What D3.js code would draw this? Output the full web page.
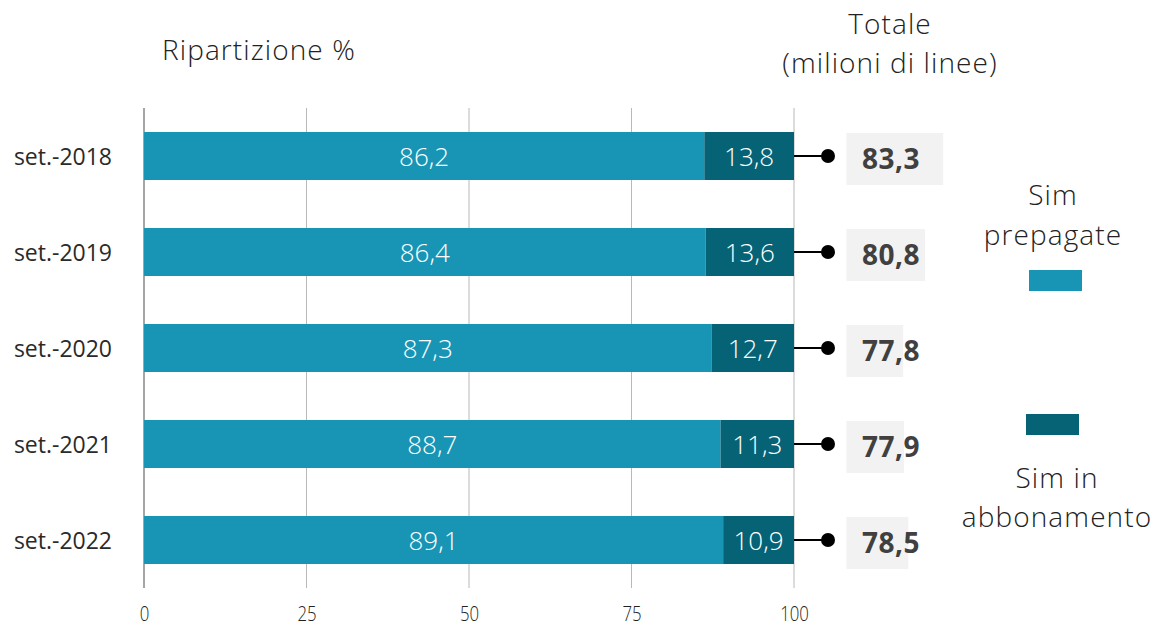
<!DOCTYPE html>
<html><head><meta charset="utf-8">
<script src="https://cdn.jsdelivr.net/npm/d3@7"></script>
<style>body{margin:0;background:#fff;} svg{display:block;}</style>
</head><body>
<svg id="c" width="1157" height="629"></svg>
<script>
const categories = ["set.-2018","set.-2019","set.-2020","set.-2021","set.-2022"];
const prepagate = [86.2, 86.4, 87.3, 88.7, 89.1];
const abbonamento = [13.8, 13.6, 12.7, 11.3, 10.9];
const totale = [83.3, 80.8, 77.8, 77.9, 78.5];
const xTicks = [0, 25, 50, 75, 100];
const seriesNames = ["Sim prepagate", "Sim in abbonamento"];
const colors = ["#1895b5", "#066376"];

const font = "'Segoe UI','Open Sans','Noto Sans',sans-serif";
const svg = d3.select("#c");
const fmt = v => d3.format(".1f")(v).replace(".", ",");

const x = d3.scaleLinear().domain([0, 100]).range([144, 794]);
const y = d3.scaleBand().domain(categories).range([108, 588]).paddingInner(0.5).paddingOuter(0.25);
const tx = d3.scaleLinear().domain([70, 85]).range([846.5, 846.5 + 15 * 7.27]);

// grid
svg.append("g").selectAll("line").data(xTicks.slice(1)).join("line")
  .attr("x1", d => x(d)).attr("x2", d => x(d)).attr("y1", 108).attr("y2", 588)
  .attr("stroke", "#b8b8b8").attr("stroke-width", 1);
svg.append("line").attr("x1", x(0)).attr("x2", x(0)).attr("y1", 108).attr("y2", 588)
  .attr("stroke", "#888").attr("stroke-width", 1.5);

// tick labels
const xa = svg.append("g").attr("transform", "translate(0,588)")
  .call(d3.axisBottom(x).tickValues(xTicks).tickSize(0).tickPadding(18));
xa.select(".domain").remove();
xa.selectAll("text").attr("font-family", font).attr("font-size", 21).attr("font-weight", 300).attr("fill", "#222")
  .attr("text-anchor", "middle").attr("transform", "scale(0.8,1)");

// category labels
const ya = svg.append("g").attr("transform", "translate(112,0)")
  .call(d3.axisLeft(y).tickSize(0).tickPadding(0));
ya.select(".domain").remove();
ya.selectAll("text").attr("font-family", font).attr("font-size", 23).attr("font-weight", 400).attr("fill", "#2a2a2a")
  .attr("dy", "0.38em");

// bars
const rows = svg.append("g").selectAll("g").data(categories).join("g");
rows.append("rect").attr("x", x(0)).attr("y", d => y(d))
  .attr("width", (d, i) => x(prepagate[i]) - x(0)).attr("height", y.bandwidth()).attr("fill", colors[0]);
rows.append("rect").attr("x", (d, i) => x(prepagate[i])).attr("y", d => y(d))
  .attr("width", (d, i) => x(prepagate[i] + abbonamento[i]) - x(prepagate[i])).attr("height", y.bandwidth()).attr("fill", colors[1]);
rows.append("text").attr("x", (d, i) => (x(0) + x(prepagate[i])) / 2).attr("y", d => y(d) + y.bandwidth() / 2)
  .attr("dy", "0.37em").attr("text-anchor", "middle").attr("fill", "#fff")
  .attr("font-family", font).attr("font-size", 26).attr("font-weight", 300).text((d, i) => fmt(prepagate[i]));
rows.append("text").attr("x", (d, i) => (x(prepagate[i]) + x(prepagate[i] + abbonamento[i])) / 2).attr("y", d => y(d) + y.bandwidth() / 2)
  .attr("dy", "0.37em").attr("text-anchor", "middle").attr("fill", "#fff")
  .attr("font-family", font).attr("font-size", 26).attr("font-weight", 300).text((d, i) => fmt(abbonamento[i]));

// connectors
rows.append("line").attr("x1", x(100)).attr("x2", 828).attr("y1", d => y(d) + y.bandwidth() / 2).attr("y2", d => y(d) + y.bandwidth() / 2)
  .attr("stroke", "#000").attr("stroke-width", 2);
rows.append("circle").attr("cx", 828).attr("cy", d => y(d) + y.bandwidth() / 2).attr("r", 7).attr("fill", "#000");

// totals
rows.append("rect").attr("x", tx(70)).attr("y", d => y(d) + 1)
  .attr("width", (d, i) => tx(totale[i]) - tx(70)).attr("height", 52).attr("fill", "#f2f2f2");
rows.append("text").attr("x", 862).attr("y", d => y(d) + 27).attr("dy", "0.37em")
  .attr("fill", "#404040").attr("font-family", font).attr("font-size", 28).attr("font-weight", 700)
  .attr("letter-spacing", "0.5px")
  .text((d, i) => fmt(totale[i]));

// titles
const tstyle = s => s.attr("font-family", font).attr("font-size", 28).attr("font-weight", 300)
  .attr("letter-spacing", "1.1px").attr("fill", "#222");
svg.append("text").attr("x", 162).attr("y", 60).call(tstyle).text("Ripartizione %");
svg.append("text").attr("x", 890).attr("y", 34).attr("text-anchor", "middle").call(tstyle).text("Totale");
svg.append("text").attr("x", 890).attr("y", 73).attr("text-anchor", "middle").call(tstyle).text("(milioni di linee)");

// legend
const lg = svg.append("g");
[["Sim", 205], ["prepagate", 245]].forEach(([t, yy]) =>
  lg.append("text").attr("x", 1053).attr("y", yy).attr("text-anchor", "middle").call(tstyle).text(t));
lg.append("rect").attr("x", 1029).attr("y", 270).attr("width", 53).attr("height", 21).attr("fill", colors[0]);
lg.append("rect").attr("x", 1026).attr("y", 414).attr("width", 53).attr("height", 21).attr("fill", colors[1]);
[["Sim in", 488], ["abbonamento", 527]].forEach(([t, yy]) =>
  lg.append("text").attr("x", 1057).attr("y", yy).attr("text-anchor", "middle").call(tstyle).text(t));
</script>
</body></html>
